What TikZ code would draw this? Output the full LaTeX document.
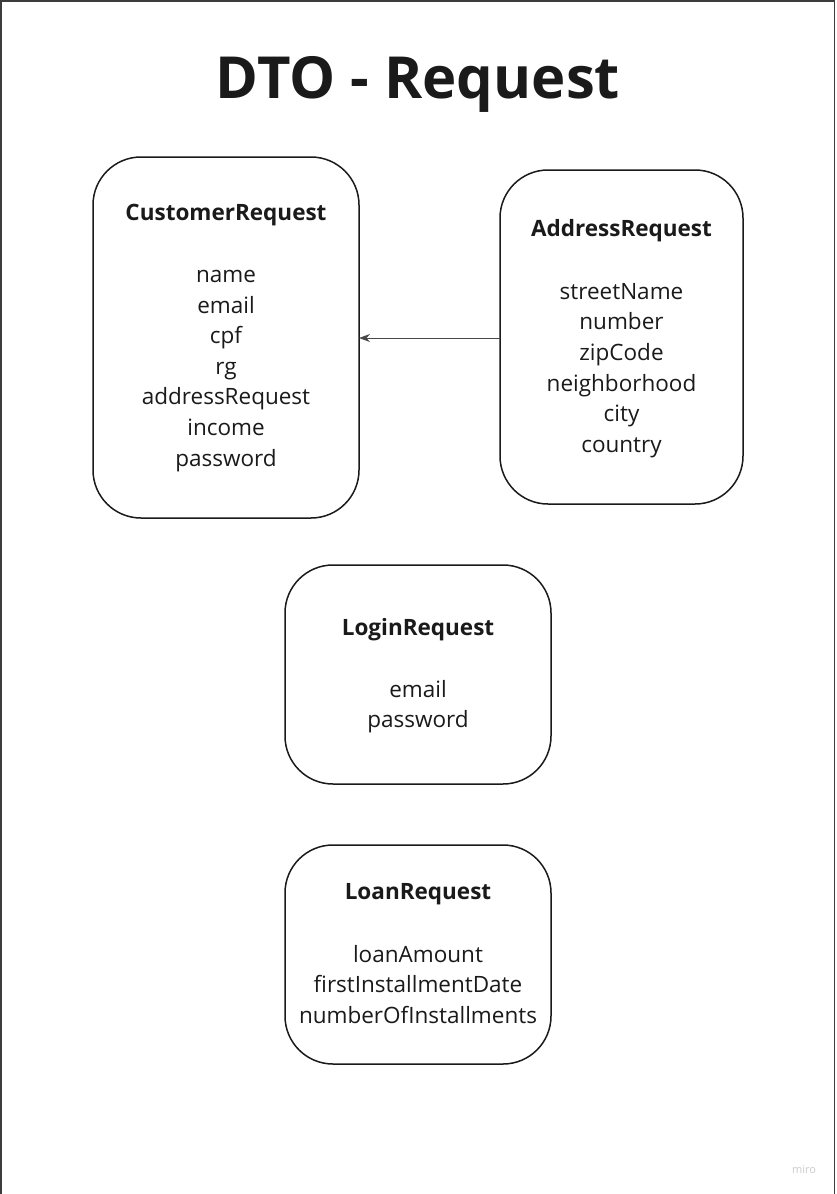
\documentclass[tikz,border=0pt]{standalone}
\usepackage{fontspec}
\setmainfont{Open Sans}
\usetikzlibrary{arrows.meta}
\definecolor{ink}{HTML}{1A1A1A}
\tikzset{
  dtobox/.style={draw=ink, line width=1.5pt, rounded corners=48pt, fill=white},
  boxtext/.style={align=center, font=\fontsize{22.5}{30.6}\selectfont, text=ink, inner sep=0pt},
  frameline/.style={draw=ink!85, line width=2pt},
  conn/.style={draw=ink!80, line width=0.9pt, -{Stealth[length=11pt,width=8pt]}}
}
\begin{document}
\begin{tikzpicture}[x=1pt,y=-1pt]
\useasboundingbox (0,0) rectangle (836,1194);
\fill[white] (0,0) rectangle (836,1194);
% frame
\coordinate (fbl) at (1,1194);
\coordinate (ftl) at (1,1);
\coordinate (ftr) at (834.5,1);
\coordinate (fbr) at (834.5,1194);
\draw[frameline] (fbl) -- (ftl) -- (ftr);
\draw[draw=ink!85, line width=1.2pt] (ftr) -- (fbr);
% title
\node[font=\fontsize{58}{68}\selectfont\bfseries, text=ink, inner sep=0pt] (title) at (418,84) {DTO - Request};
% boxes
\draw[dtobox] (93,157) rectangle (359,518);
\coordinate (custR) at (359,338);
\draw[dtobox] (500,170) rectangle (743,504);
\coordinate (addrL) at (500,338);
\draw[dtobox] (285,565) rectangle (551,784);
\draw[dtobox] (285,845) rectangle (551,1064);
% texts
\node[boxtext, anchor=center] (custH) at (226,215.5) {\bfseries CustomerRequest};
\node[boxtext, anchor=north] (custB) at (226,270) {name\\email\\cpf\\rg\\addressRequest\\income\\password};
\node[boxtext, anchor=center] (addrH) at (621.5,230.5) {\bfseries AddressRequest};
\node[boxtext, anchor=north] (addrB) at (621.5,283) {streetName\\number\\zipCode\\neighborhood\\city\\country};
\node[boxtext, anchor=center] (loginH) at (418,629.5) {\bfseries LoginRequest};
\node[boxtext, anchor=north] (loginB) at (418,680) {email\\password};
\node[boxtext, anchor=center] (loanH) at (418,894.5) {\bfseries LoanRequest};
\node[boxtext, anchor=north] (loanB) at (418,945) {loanAmount\\firstInstallmentDate\\numberOfInstallments};
% connector
\draw[conn] (addrL) -- (custR);
% watermark
\node[font=\fontsize{11}{13}\selectfont, text=black!20, inner sep=0pt] (miro) at (804,1170) {miro};
\end{tikzpicture}
\end{document}
